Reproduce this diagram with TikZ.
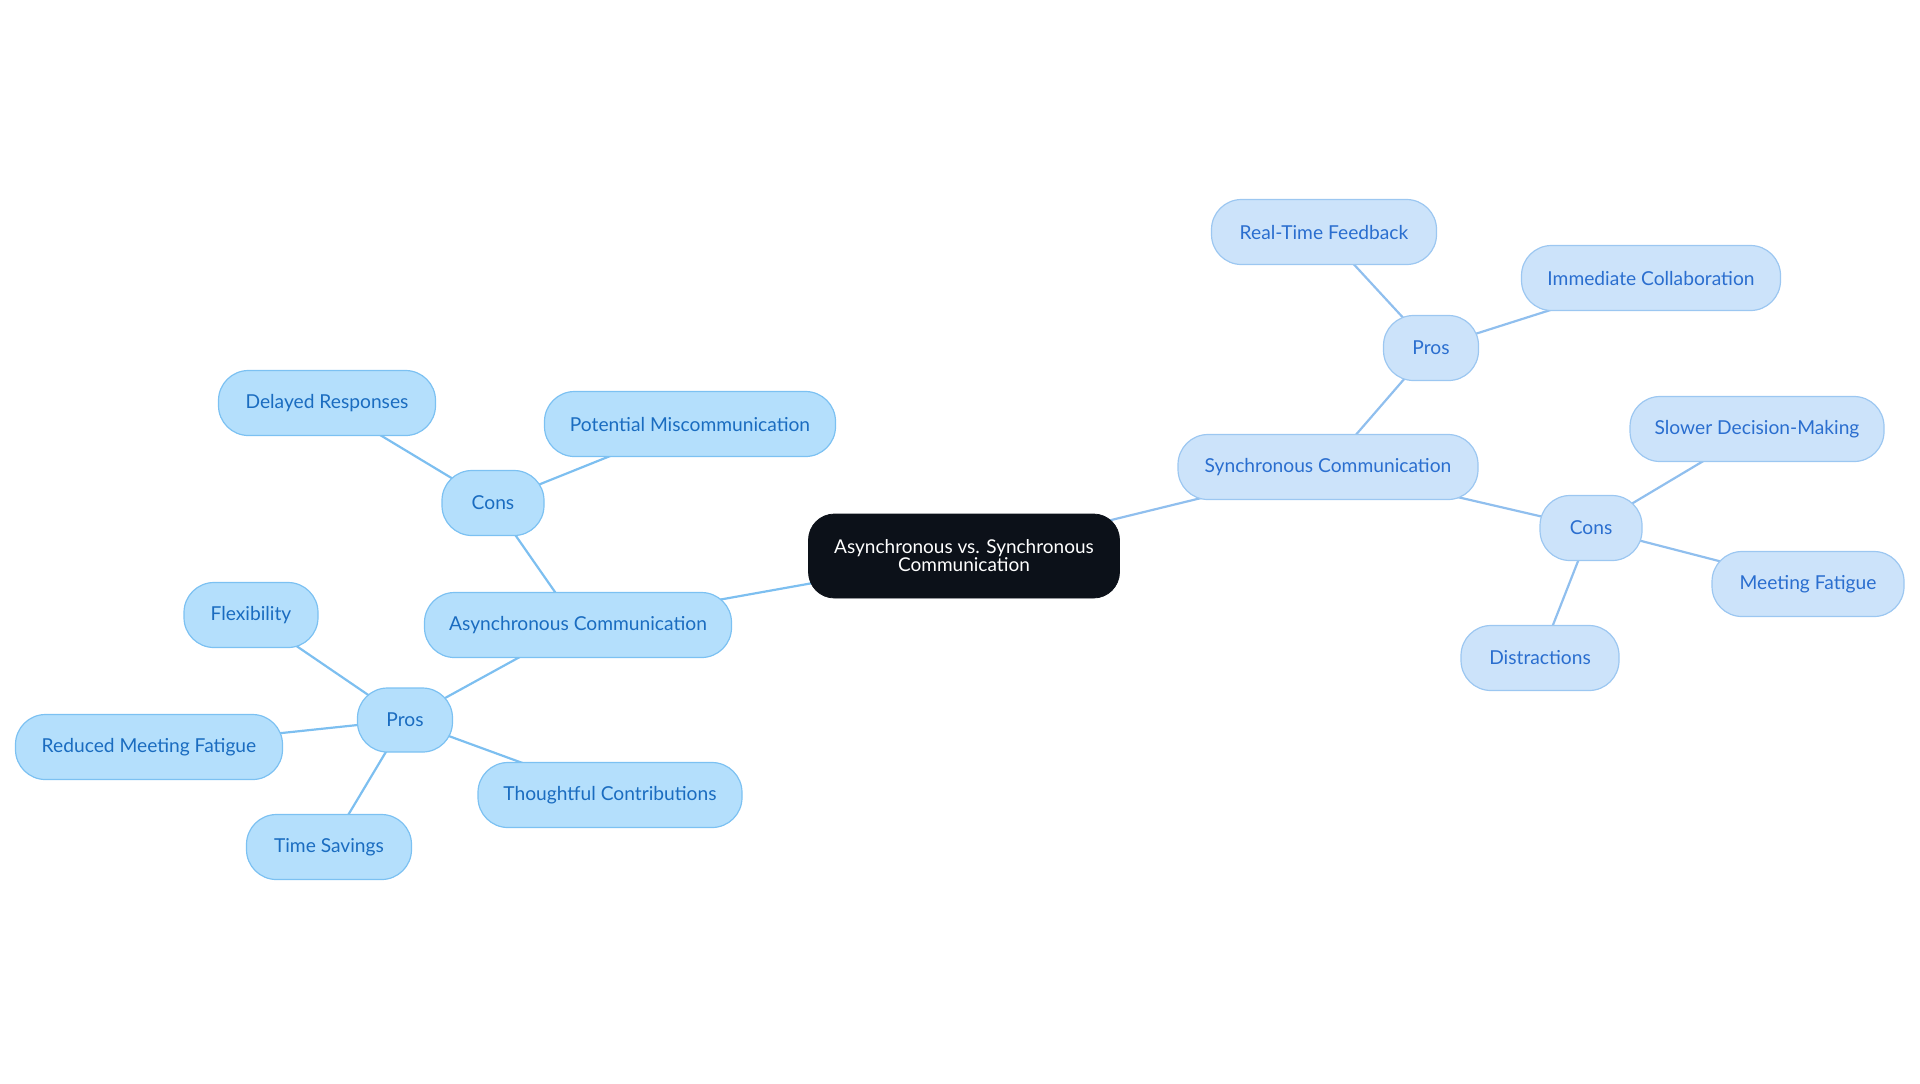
\documentclass[tikz,border=0pt]{standalone}
\usepackage{fontspec}
\setmainfont{Lato}
\usetikzlibrary{backgrounds}
\definecolor{lfill}{HTML}{B4DFFC}
\definecolor{lborder}{HTML}{7CC1F2}
\definecolor{ltext}{HTML}{1A6CC0}
\definecolor{rfill}{HTML}{CCE3FA}
\definecolor{rborder}{HTML}{9CC7F1}
\definecolor{rtext}{HTML}{2A6ECF}
\definecolor{ledge}{HTML}{7DBFF0}
\definecolor{redge}{HTML}{90BFEE}
\definecolor{rootfill}{HTML}{0C1119}
\tikzset{
  base/.style={rectangle, rounded corners=15pt, minimum height=32.5pt, inner sep=0pt, font=\fontsize{9.6}{11}\selectfont, line width=0.6pt},
  lnode/.style={base, fill=lfill, draw=lborder, text=ltext},
  rnode/.style={base, fill=rfill, draw=rborder, text=rtext},
  rootnode/.style={rectangle, rounded corners=13pt, fill=rootfill, draw=rootfill, text=white, align=center, font=\fontsize{9.5}{9}\selectfont, minimum width=155.5pt, minimum height=42pt, inner sep=0pt},
  ledgest/.style={draw=ledge, line width=1.1pt},
  redgest/.style={draw=redge, line width=1.1pt},
}
\begin{document}
\begin{tikzpicture}[x=0.5pt,y=-0.5pt]
\useasboundingbox (0,0) rectangle (1920,1083);
\node[rootnode] (root) at (964,556) {Asynchronous vs. Synchronous\\Communication};
% left branch
\node[lnode, minimum width=153.5pt] (async) at (578,625) {Asynchronous Communication};
\node[lnode, minimum width=51pt] (lcons) at (493,503) {Cons};
\node[lnode, minimum width=108.5pt] (delayed) at (327,403) {Delayed Responses};
\node[lnode, minimum width=145.5pt] (miscomm) at (690,424) {Potential Miscommunication};
\node[lnode, minimum width=47.5pt, minimum height=32pt] (lpros) at (405,720) {Pros};
\node[lnode, minimum width=67pt] (flex) at (251,615) {Flexibility};
\node[lnode, minimum width=133.5pt] (reduced) at (149,747) {Reduced Meeting Fatigue};
\node[lnode, minimum width=82.5pt] (time) at (329,847) {Time Savings};
\node[lnode, minimum width=132pt] (thought) at (610,795) {Thoughtful Contributions};
% right branch
\node[rnode, minimum width=150pt] (sync) at (1328,467) {Synchronous Communication};
\node[rnode, minimum width=47.5pt] (rpros) at (1431,348) {Pros};
\node[rnode, minimum width=112.5pt] (feedback) at (1324,232) {Real-Time Feedback};
\node[rnode, minimum width=129.5pt] (collab) at (1651,278) {Immediate Collaboration};
\node[rnode, minimum width=51pt] (rcons) at (1591,528) {Cons};
\node[rnode, minimum width=127pt] (slower) at (1757,429) {Slower Decision-Making};
\node[rnode, minimum width=96pt] (fatigue) at (1808,584) {Meeting Fatigue};
\node[rnode, minimum width=79pt] (distract) at (1540,658) {Distractions};
\begin{scope}[on background layer]
\draw[ledgest] (root.center) -- (async.center);
\draw[ledgest] (async.center) -- (lcons.center);
\draw[ledgest] (lcons.center) -- (delayed.center);
\draw[ledgest] (lcons.center) -- (miscomm.center);
\draw[ledgest] (async.center) -- (lpros.center);
\draw[ledgest] (lpros.center) -- (flex.center);
\draw[ledgest] (lpros.center) -- (reduced.center);
\draw[ledgest] (lpros.center) -- (time.center);
\draw[ledgest] (lpros.center) -- (thought.center);
\draw[redgest] (root.center) -- (sync.center);
\draw[redgest] (sync.center) -- (rpros.center);
\draw[redgest] (rpros.center) -- (feedback.center);
\draw[redgest] (rpros.center) -- (collab.center);
\draw[redgest] (sync.center) -- (rcons.center);
\draw[redgest] (rcons.center) -- (slower.center);
\draw[redgest] (rcons.center) -- (fatigue.center);
\draw[redgest] (rcons.center) -- (distract.center);
\end{scope}
\end{tikzpicture}
\end{document}
